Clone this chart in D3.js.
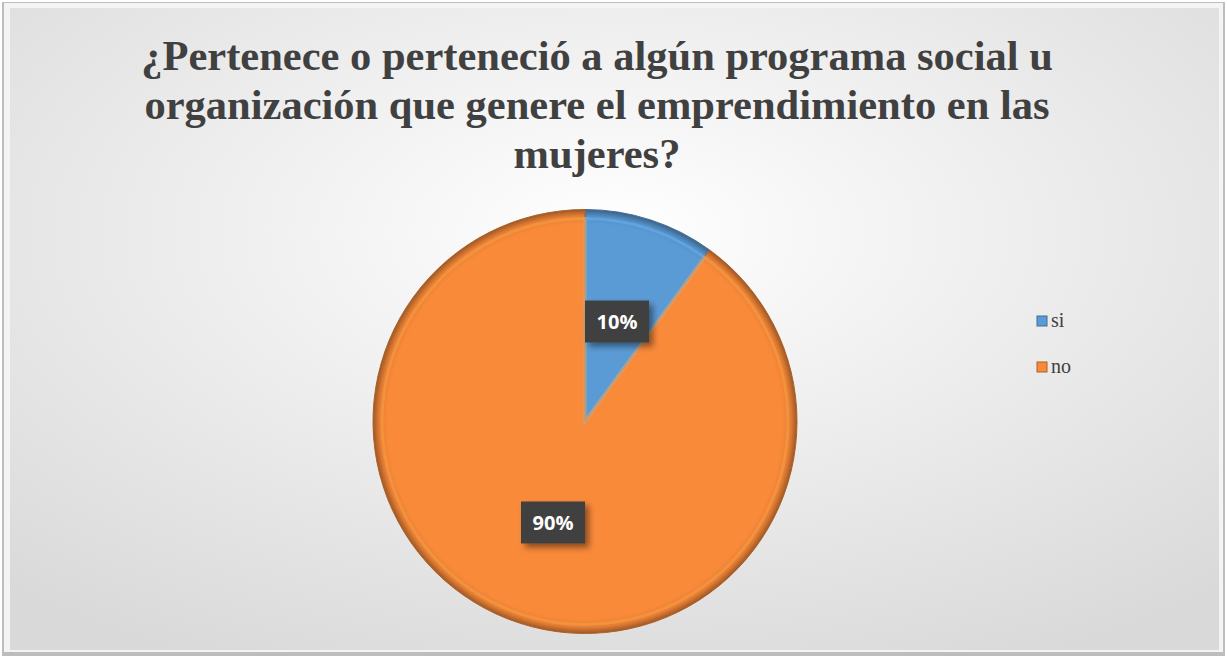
<!DOCTYPE html>
<html>
<head>
<meta charset="utf-8">
<script src="https://cdn.jsdelivr.net/npm/d3@7"></script>
<style>
  body { margin: 0; background: #fff; }
</style>
</head>
<body>
<script>
var categories = ["si", "no"];
var values = [10, 90];
var labels = ["10%", "90%"];
var colors = ["#5b9bd5", "#f98a3a"];
var titleLines = ["¿Pertenece o perteneció a algún programa social u",
                  "organización que genere el emprendimiento en las",
                  "mujeres?"];

var width = 1227, height = 658;
var cx = 585, cy = 421.5, radius = 212;

var svg = d3.select('body')
  .append('svg')
  .attr('width', width)
  .attr('height', height);

var defs = svg.append('defs');

// background gradient of the chart area
var bg = defs.append('radialGradient')
  .attr('id', 'bg')
  .attr('cx', '50%').attr('cy', '35%').attr('r', '75%');
bg.append('stop').attr('offset', '0%').attr('stop-color', '#ffffff');
bg.append('stop').attr('offset', '100%').attr('stop-color', '#d9d9d9');

// slice gradients, darker toward the rim (centred on the pie group origin)
colors.forEach(function(c, i) {
  var g = defs.append('radialGradient')
    .attr('id', 'slice' + i)
    .attr('gradientUnits', 'userSpaceOnUse')
    .attr('cx', 0).attr('cy', 0).attr('r', radius);
  g.append('stop').attr('offset', '0%').attr('stop-color', c);
  g.append('stop').attr('offset', '93%').attr('stop-color', c);
  g.append('stop').attr('offset', '97%').attr('stop-color', d3.color(c).darker(0.25));
  g.append('stop').attr('offset', '100%').attr('stop-color', d3.color(c).darker(1.3));
});

var shadow = defs.append('filter').attr('id', 'shadow')
  .attr('x', '-30%').attr('y', '-30%').attr('width', '160%').attr('height', '160%');
shadow.append('feDropShadow')
  .attr('dx', 4).attr('dy', 4).attr('stdDeviation', 3)
  .attr('flood-color', '#000').attr('flood-opacity', 0.45);

// outer frame
svg.append('rect')
  .attr('x', 2).attr('y', 2)
  .attr('width', width - 4).attr('height', height - 4)
  .attr('fill', '#bdbdbd');
svg.append('rect')
  .attr('x', 4).attr('y', 3)
  .attr('width', width - 8).attr('height', height - 9)
  .attr('fill', '#f4f4f4');
svg.append('rect')
  .attr('x', 10).attr('y', 8)
  .attr('width', width - 18).attr('height', height - 16)
  .attr('fill', 'url(#bg)');

// title
var title = svg.append('text')
  .attr('text-anchor', 'middle')
  .style('font', 'bold 42.5px "Liberation Serif", "Times New Roman", serif')
  .attr('fill', '#404040');
titleLines.forEach(function(t, i) {
  title.append('tspan')
    .attr('x', 597)
    .attr('y', 70 + i * 49)
    .text(t);
});

// pie
var pie = d3.pie().sort(null).value(function(d) { return d; });
var arcs = pie(values);
var arc = d3.arc().innerRadius(0).outerRadius(radius);

var pieGroup = svg.append('g')
  .attr('transform', 'translate(' + cx + ',' + cy + ')');

pieGroup.selectAll('path.slice')
  .data(arcs)
  .enter()
  .append('path')
  .attr('class', 'slice')
  .attr('d', arc)
  .attr('fill', function(d, i) { return 'url(#slice' + i + ')'; })
  .attr('stroke', function(d, i) { return d3.color(colors[i]).darker(1); })
  .attr('stroke-width', 1);

// soft bevel lines just inside each slice edge
pieGroup.selectAll('path.bevel')
  .data(arcs)
  .enter()
  .append('path')
  .attr('class', 'bevel')
  .attr('d', d3.arc().innerRadius(0).outerRadius(radius - 9))
  .attr('fill', 'none')
  .attr('stroke', function(d, i) { return d3.color(colors[i]).brighter(0.5); })
  .attr('stroke-opacity', 0.45)
  .attr('stroke-width', 3);

// data labels
var labelPos = [[32, -100], [-32, 101]];
var labelGroups = pieGroup.selectAll('g.label')
  .data(arcs)
  .enter()
  .append('g')
  .attr('class', 'label')
  .attr('transform', function(d, i) {
    return 'translate(' + labelPos[i][0] + ',' + labelPos[i][1] + ')';
  });

labelGroups.append('rect')
  .attr('x', -32).attr('y', -21)
  .attr('width', 64).attr('height', 42)
  .attr('fill', '#404040')
  .attr('filter', 'url(#shadow)');

labelGroups.append('text')
  .text(function(d, i) { return labels[i]; })
  .attr('text-anchor', 'middle')
  .attr('dy', '0.36em')
  .attr('fill', '#ffffff')
  .style('font', 'bold 20px "Open Sans", sans-serif');

// legend
var legend = svg.append('g')
  .attr('transform', 'translate(1037, 321)');
var legendItems = legend.selectAll('g')
  .data(categories)
  .enter()
  .append('g')
  .attr('transform', function(d, i) { return 'translate(0,' + i * 46 + ')'; });

legendItems.append('rect')
  .attr('x', 0).attr('y', -5)
  .attr('width', 10).attr('height', 10)
  .attr('fill', function(d, i) { return colors[i]; })
  .attr('stroke', function(d, i) { return d3.color(colors[i]).darker(1); })
  .attr('stroke-width', 1);

legendItems.append('text')
  .text(function(d) { return d; })
  .attr('x', 14)
  .attr('dy', '0.32em')
  .attr('fill', '#404040')
  .style('font', '20px "Liberation Serif", "Times New Roman", serif');
</script>
</body>
</html>
